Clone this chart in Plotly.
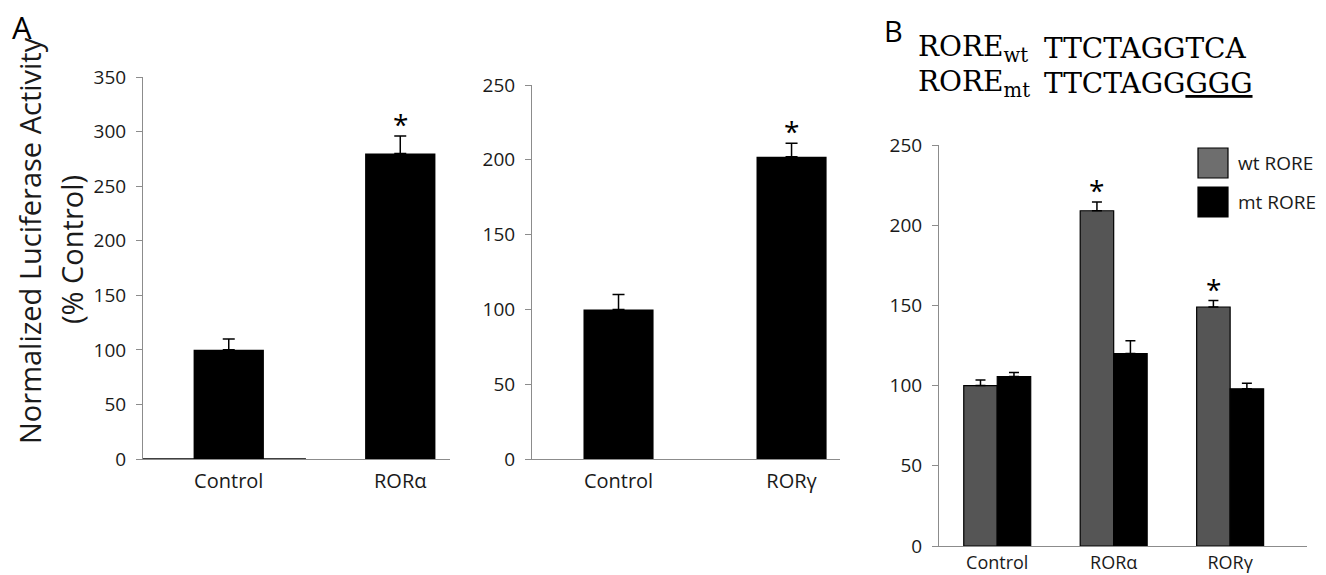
import plotly.graph_objects as go

# ---- data ----
catsA1 = ["Control", "ROR\u03b1"]
valsA1 = [100, 280]
errA1 = [10, 16]

catsA2 = ["Control", "ROR\u03b3"]
valsA2 = [100, 202]
errA2 = [10, 9]

catsB = ["Control", "ROR\u03b1", "ROR\u03b3"]
wtB = [100, 209, 149]
wtErrB = [3.5, 5.5, 4]
mtB = [105.6, 120, 98]
mtErrB = [2.5, 8, 3.5]

sigA1 = [False, True]
sigA2 = [False, True]
sigB = [False, True, True]

W, H = 1326, 575
FONT = "Open Sans"
SEQFONT = "DejaVu Serif"
AXIS_COL = "#8c8c8c"
WT_COL = "#555555"

def px(x):
    return x / W

def py(y):
    return 1 - y / H

fig = go.Figure()

err_style = dict(type="data", symmetric=False, color="black", thickness=1.5)

fig.add_trace(go.Bar(x=catsA1, y=valsA1, width=0.41, marker=dict(color="black", line=dict(width=0)),
                     error_y=dict(array=errA1, arrayminus=[0]*len(errA1), width=6, **err_style),
                     xaxis="x", yaxis="y", showlegend=False))
fig.add_trace(go.Bar(x=catsA2, y=valsA2, width=0.405, marker=dict(color="black", line=dict(width=0)),
                     error_y=dict(array=errA2, arrayminus=[0]*len(errA2), width=6, **err_style),
                     xaxis="x2", yaxis="y2", showlegend=False))
fig.add_trace(go.Bar(x=catsB, y=wtB, name="wt RORE", marker=dict(color=WT_COL, line=dict(color="black", width=1.2)),
                     error_y=dict(array=wtErrB, arrayminus=[0]*3, width=5, **err_style),
                     xaxis="x3", yaxis="y3", showlegend=False))
fig.add_trace(go.Bar(x=catsB, y=mtB, name="mt RORE", marker=dict(color="black", line=dict(color="black", width=1.2)),
                     error_y=dict(array=mtErrB, arrayminus=[0]*3, width=5, **err_style),
                     xaxis="x3", yaxis="y3", showlegend=False))

tickfont = dict(family=FONT, size=19, color="#1a1a1a")

def yax(domain, rng, dtick, anchor):
    return dict(domain=domain, range=rng, dtick=dtick, anchor=anchor, showgrid=False, zeroline=False,
                showline=True, linecolor=AXIS_COL, linewidth=1, ticks="outside", ticklen=6,
                tickcolor=AXIS_COL, tickfont=tickfont, ticklabelstandoff=6, fixedrange=True)

def xax(domain, rng, anchor, standoff, size):
    return dict(domain=domain, range=rng, anchor=anchor, showgrid=False, zeroline=False,
                showline=True, linecolor=AXIS_COL, linewidth=1, ticks="",
                tickfont=dict(family=FONT, size=size, color="#1a1a1a"),
                ticklabelstandoff=standoff, type="category", fixedrange=True)

fig.update_layout(
    width=W, height=H, margin=dict(l=0, r=0, t=0, b=0, autoexpand=False),
    paper_bgcolor="white", plot_bgcolor="white",
    barmode="group", bargap=0.425, bargroupgap=0,
    xaxis=xax([px(143), px(450)], [-0.5, 1.29], "y", 4, 20),
    yaxis=yax([py(459), py(77)], [0, 350], 50, "x"),
    xaxis2=xax([px(532), px(840)], [-0.5, 1.28], "y2", 4, 20),
    yaxis2=yax([py(459), py(85)], [0, 250], 50, "x2"),
    xaxis3=xax([px(939), px(1307)], [-0.5, 2.66], "y3", 0, 18),
    yaxis3=yax([py(546), py(145)], [0, 250], 50, "x3"),
)

ann = []
star_font = dict(family=FONT, size=28, color="black")
for i, s in enumerate(sigA1):
    if s:
        ann.append(dict(x=i, y=valsA1[i] + errA1[i], xref="x", yref="y", text="*", showarrow=False,
                        xanchor="center", yanchor="bottom", yshift=-9, font=star_font))
for i, s in enumerate(sigA2):
    if s:
        ann.append(dict(x=i, y=valsA2[i] + errA2[i], xref="x2", yref="y2", text="*", showarrow=False,
                        xanchor="center", yanchor="bottom", yshift=-9, font=star_font))
half = (1 - 0.425) / 4
for i, s in enumerate(sigB):
    if s:
        ann.append(dict(x=i - half, y=wtB[i] + wtErrB[i], xref="x3", yref="y3", text="*", showarrow=False,
                        xanchor="center", yanchor="bottom", yshift=-9, font=star_font))

def pann(x, y, text, font, xa="center", ya="middle", angle=0):
    ann.append(dict(x=px(x), y=py(y), xref="paper", yref="paper", text=text, showarrow=False,
                    xanchor=xa, yanchor=ya, textangle=angle, font=font))

# axis title (two lines)
titlefont = dict(family=FONT, size=29, color="#1a1a1a")
pann(29, 241, "Normalized Luciferase Activity", titlefont, angle=-90)
pann(72, 250, "(% Control)", titlefont, angle=-90)
# panel letters
pann(22, 27, "A", dict(family=FONT, size=31, color="black"))
pann(893, 30, "B", dict(family=FONT, size=29, color="black"))
# RORE sequences
seq = dict(family=SEQFONT, size=28, color="black")
pann(916, 49, "RORE<sub>wt</sub>", seq, xa="left")
pann(1042, 49, "TTCTAGGTCA", seq, xa="left")
pann(916, 84, "RORE<sub>mt</sub>", seq, xa="left")
pann(1042, 84, "TTCTAGG<u>GGG</u>", seq, xa="left")
# legend text
legfont = dict(family=FONT, size=19, color="#1a1a1a")
pann(1236, 163, "wt RORE", legfont, xa="left")
pann(1236, 202, "mt RORE", legfont, xa="left")
fig.update_layout(annotations=ann)

shapes = [
    dict(type="rect", xref="paper", yref="paper", x0=px(1198), x1=px(1228), y0=py(178), y1=py(148),
         fillcolor="#6e6e6e", line=dict(color="black", width=1.2)),
    dict(type="rect", xref="paper", yref="paper", x0=px(1198), x1=px(1228), y0=py(217), y1=py(187),
         fillcolor="black", line=dict(color="black", width=1.2)),
    # dark baseline segment in panel A (zero-height series)
    dict(type="line", xref="x", yref="y", x0=-0.5, x1=0.45, y0=0, y1=0, line=dict(color="black", width=1.5)),
]
fig.update_layout(shapes=shapes)

fig.write_html("out.html", config={"displayModeBar": False},
               post_script="document.body.style.margin='0';document.body.style.overflow='hidden';")
